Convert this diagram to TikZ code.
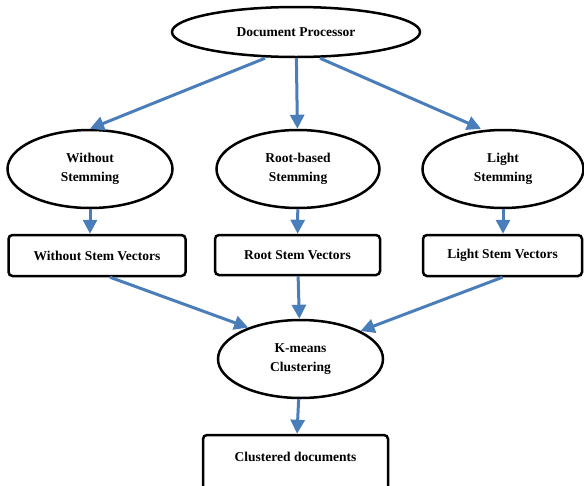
\documentclass[tikz,border=0pt]{standalone}
\usepackage{fontspec}
\setmainfont{Liberation Serif}
\usetikzlibrary{shapes.geometric,arrows.meta}
\begin{document}
\begin{tikzpicture}[x=1pt,y=-1pt,
    stage/.style={draw,ellipse,line width=2.5pt,minimum width=165pt,minimum height=78pt,
      align=center,font=\fontsize{13.5}{19}\selectfont\bfseries,inner sep=0pt},
    vecbox/.style={draw,rounded corners=4pt,line width=2.5pt,minimum height=41pt,
      font=\fontsize{13.5}{15}\selectfont\bfseries,inner sep=0pt},
    flow/.style={draw={rgb,255:red,74;green,126;blue,187},line width=3pt,
      -{Triangle[length=14pt,width=14pt]}}]
      \useasboundingbox (0,0) rectangle (584,485);
      \draw
        (296,32) node[stage,minimum width=248pt,minimum height=50pt] (doc){Document Processor}
        (90,169) node[stage] (wo){Without\\Stemming}
        (298,169) node[stage,minimum width=163pt] (root){Root-based\\Stemming}
        (503,169) node[stage,minimum width=161pt] (light){Light\\Stemming}
        (97,255.5) node[vecbox,minimum width=177pt] (wov){Without Stem Vectors}
        (297.5,255) node[vecbox,minimum width=165pt,minimum height=40pt] (rootv){Root Stem Vectors}
        (502.5,255.5) node[vecbox,minimum width=159pt] (lightv){Light Stem Vectors}
        (300.5,359) node[stage] (km){K-means\\Clustering}
        (295.5,467) node[vecbox,minimum width=185pt,minimum height=64pt,text depth=20pt] (out){Clustered documents};
      \begin{scope}[flow]
        \draw ([xshift=-31pt]doc.south) to (wo.north);
        \draw (doc) to (root);
        \draw ([xshift=24pt]doc.south) to ([xshift=-22pt]light.north);
        \draw (wo) to (wo.south |- wov.north);
        \draw (root) to (rootv);
        \draw (light.south) to (light.south |- lightv.north);
        \draw ([xshift=13pt]wov.south) to (km.149);
        \draw (rootv) to (km);
        \draw (lightv.south) to (km.25);
        \draw (km) to (out);
      \end{scope}
    \end{tikzpicture}
\end{document}
